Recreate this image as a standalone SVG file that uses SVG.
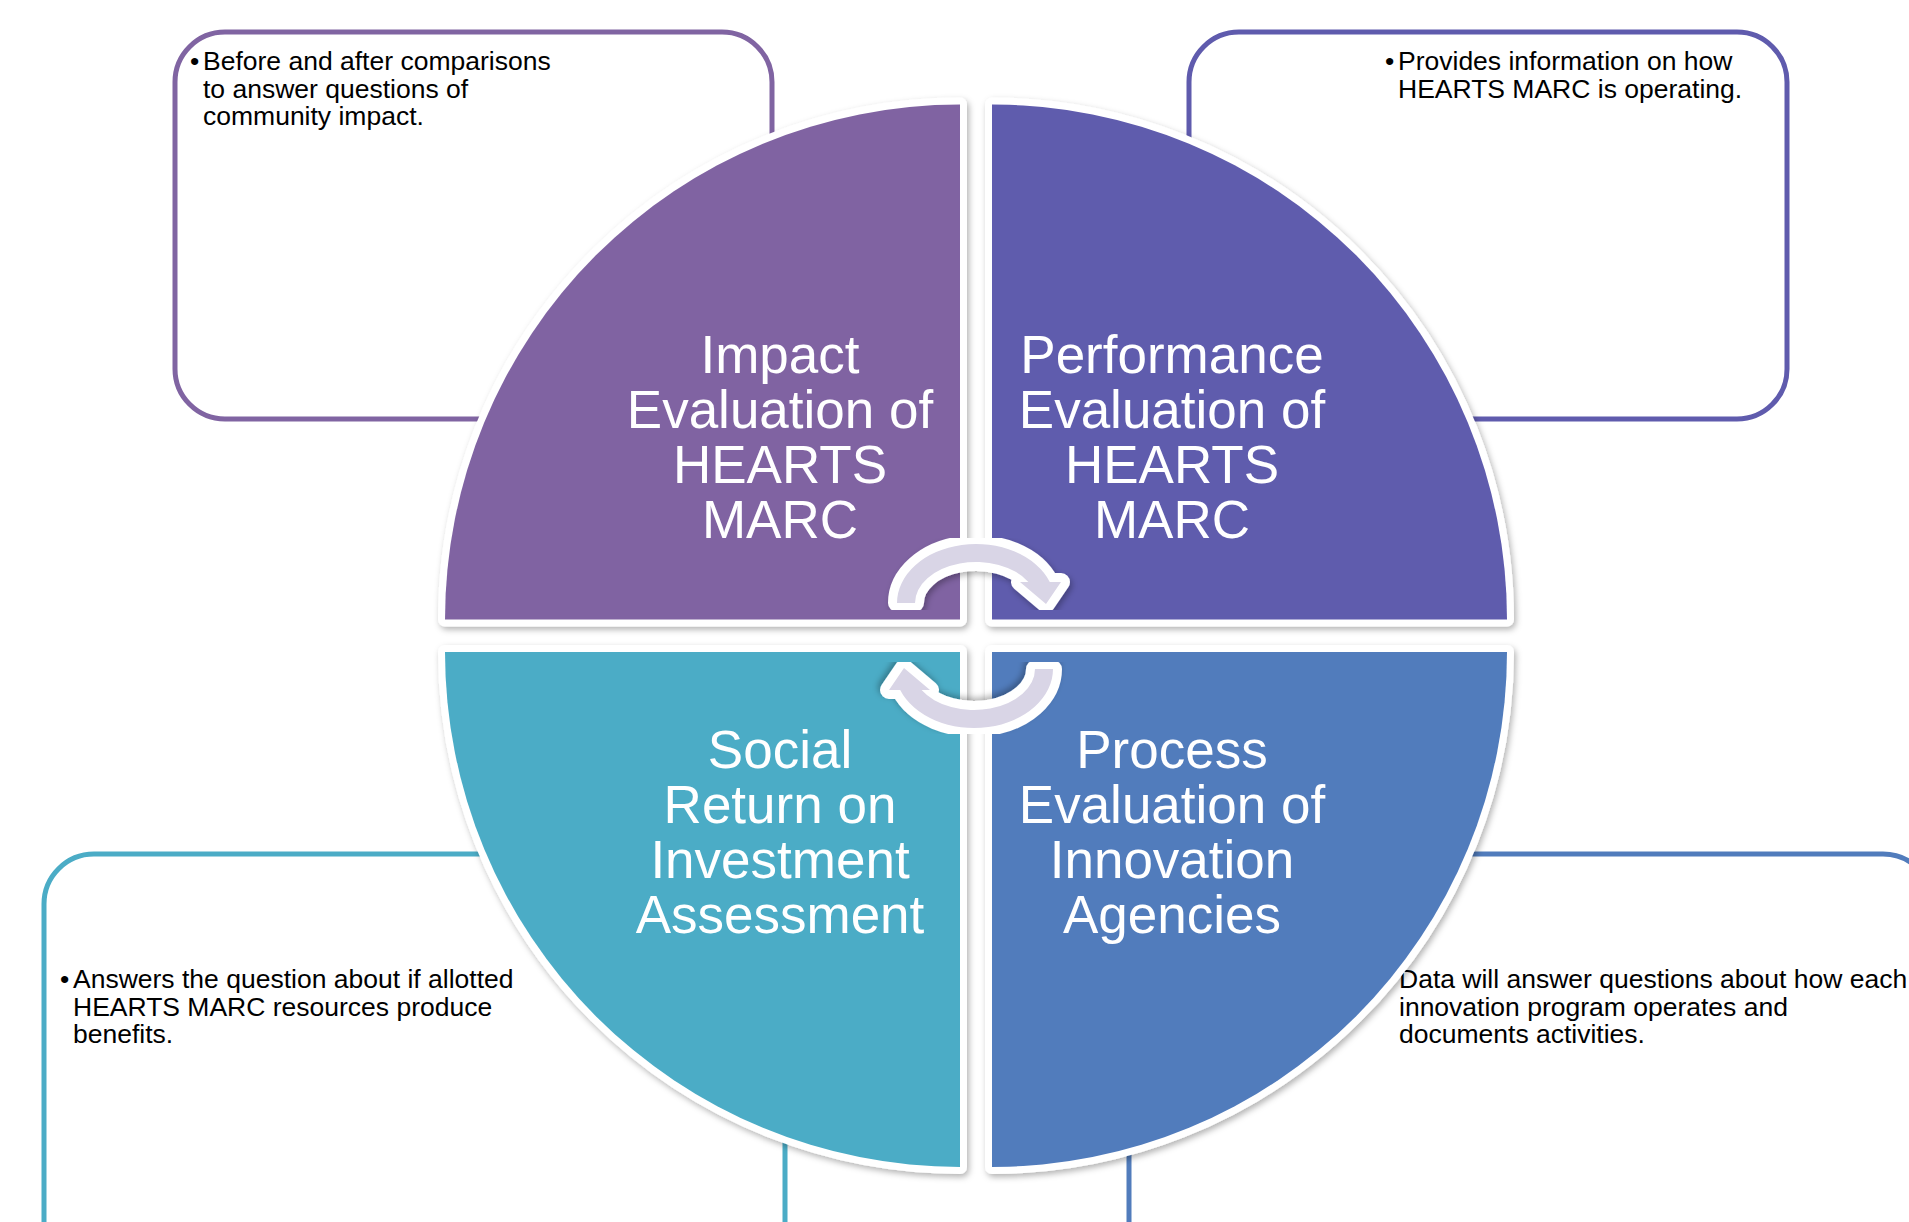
<svg xmlns="http://www.w3.org/2000/svg" width="1909" height="1222" viewBox="0 0 1909 1222">
<defs>
<style>
.box{fill:#fff;stroke-width:5}
.btxt{font-family:"Liberation Sans",Arial,sans-serif;font-size:26.5px;fill:#000}
.qtxt{font-family:"Liberation Sans",Arial,sans-serif;font-size:53px;fill:#fff;text-anchor:middle}
.quad{stroke:#fff;stroke-width:14;stroke-linejoin:round;paint-order:stroke;filter:url(#sh)}
.arrow{fill:#D9D5E6;stroke:#fff;stroke-width:18;stroke-linejoin:round;paint-order:stroke;filter:url(#sh)}
</style>
<filter id="sh" x="-10%" y="-10%" width="120%" height="120%">
<feDropShadow dx="2" dy="3" stdDeviation="3" flood-color="#000" flood-opacity="0.3"/>
</filter>
</defs>
<rect width="1909" height="1222" fill="#fff"/>

<g id="box-impact">
<rect class="box" x="175" y="32" width="597" height="387" rx="50" stroke="#8064A2"/>
<text class="btxt" x="190" y="70">•</text>
<text class="btxt" x="203" y="70">Before and after comparisons</text>
<text class="btxt" x="203" y="97.5">to answer questions of</text>
<text class="btxt" x="203" y="125">community impact.</text>
</g>
<g id="box-performance">
<rect class="box" x="1189" y="32" width="598" height="387" rx="50" stroke="#5F5BAD"/>
<text class="btxt" x="1385" y="70">•</text>
<text class="btxt" x="1398" y="70">Provides information on how</text>
<text class="btxt" x="1398" y="97.5">HEARTS MARC is operating.</text>
</g>
<g id="box-sroi">
<rect class="box" x="44" y="854" width="741" height="450" rx="50" stroke="#4BACC6"/>
<text class="btxt" x="60" y="988">•</text>
<text class="btxt" x="73" y="988">Answers the question about if allotted</text>
<text class="btxt" x="73" y="1015.5">HEARTS MARC resources produce</text>
<text class="btxt" x="73" y="1043">benefits.</text>
</g>
<g id="box-process">
<rect class="box" x="1129" y="854" width="804" height="450" rx="50" stroke="#517CBC"/>
<text class="btxt" x="1399" y="988">Data will answer questions about how each</text>
<text class="btxt" x="1399" y="1015.5">innovation program operates and</text>
<text class="btxt" x="1399" y="1043">documents activities.</text>
</g>

<g id="q-impact">
<path class="quad" fill="#8064A2" d="M960 619.5 L445 619.5 A515 515 0 0 1 960 104.5 Z"/>
<text class="qtxt" x="780" y="373">Impact</text>
<text class="qtxt" x="780" y="428">Evaluation of</text>
<text class="qtxt" x="780" y="483">HEARTS</text>
<text class="qtxt" x="780" y="538">MARC</text>
</g>
<g id="q-performance">
<path class="quad" fill="#5F5BAD" d="M992 619.5 L992 104.5 A515 515 0 0 1 1507 619.5 Z"/>
<text class="qtxt" x="1172" y="373">Performance</text>
<text class="qtxt" x="1172" y="428">Evaluation of</text>
<text class="qtxt" x="1172" y="483">HEARTS</text>
<text class="qtxt" x="1172" y="538">MARC</text>
</g>
<g id="q-sroi">
<path class="quad" fill="#4BACC6" d="M960 652 L960 1167 A515 515 0 0 1 445 652 Z"/>
<text class="qtxt" x="780" y="768">Social</text>
<text class="qtxt" x="780" y="823">Return on</text>
<text class="qtxt" x="780" y="878">Investment</text>
<text class="qtxt" x="780" y="933">Assessment</text>
</g>
<g id="q-process">
<path class="quad" fill="#517CBC" d="M992 652 L1507 652 A515 515 0 0 1 992 1167 Z"/>
<text class="qtxt" x="1172" y="768">Process</text>
<text class="qtxt" x="1172" y="823">Evaluation of</text>
<text class="qtxt" x="1172" y="878">Innovation</text>
<text class="qtxt" x="1172" y="933">Agencies</text>
</g>

<g id="connectors">
<path id="arrow-top" class="arrow" d="M897 603 A79 59 0 0 1 1049.8 582 L1061 582 L1046 604 L1020 582 L1028.4 582 A61 41 0 0 0 915 603 Z"/>
<path id="arrow-bottom" class="arrow" transform="rotate(180 975 636)" d="M897 603 A79 59 0 0 1 1049.8 582 L1061 582 L1046 604 L1020 582 L1028.4 582 A61 41 0 0 0 915 603 Z"/>
</g>
</svg>
